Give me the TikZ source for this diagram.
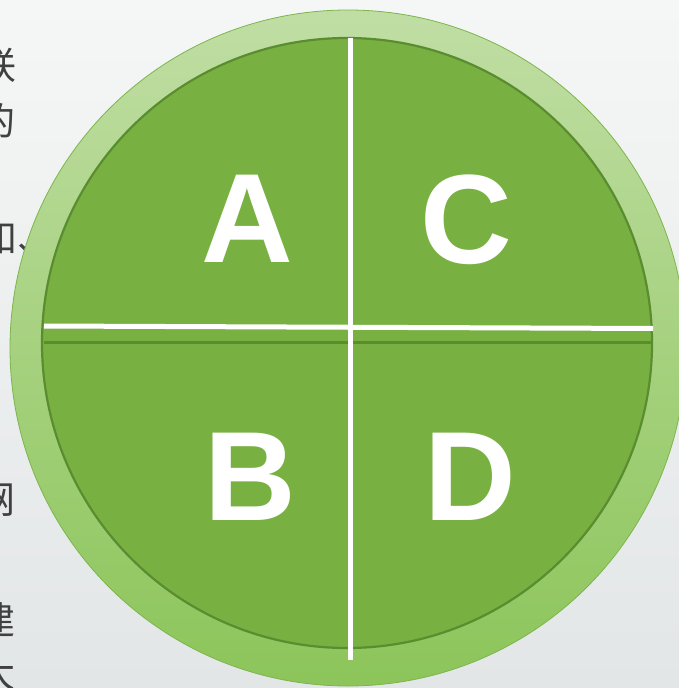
\documentclass[tikz,border=0pt]{standalone}
\usepackage{fontspec}
\setmainfont{Liberation Sans}
\newfontfamily\cjk{Noto Sans CJK SC}
\definecolor{bgtop}{HTML}{F5F7F6}
\definecolor{bgbot}{HTML}{E3E6E7}
\definecolor{ringtop}{HTML}{C0DEA4}
\definecolor{ringbot}{HTML}{8CC55A}
\definecolor{ringedge}{HTML}{7DB54C}
\definecolor{innerfill}{HTML}{78B142}
\definecolor{inneredge}{HTML}{5A8C30}
\definecolor{txtgray}{HTML}{404040}
\tikzset{
  letter/.style={text=white, inner sep=0pt, anchor=base, font=\bfseries\fontsize{127}{127}\selectfont},
  sidetext/.style={text=txtgray, inner sep=0pt, anchor=east, font=\cjk\fontsize{38}{38}\selectfont},
  divider/.style={white, line width=5pt},
}
\begin{document}
\begin{tikzpicture}[x=1pt,y=-1pt]
\useasboundingbox (0,0) rectangle (679,688);
\clip (0,0) rectangle (679,688);
\shade[top color=bgtop, bottom color=bgbot] (0,0) rectangle (679,688);
% side text (cut off at the left edge, as in the reference)
\node[sidetext] (t1) at (17,66) {联};
\node[sidetext] (t2) at (16,121) {的};
\node[sidetext] (t3) at (56,238) {和、};
\node[sidetext] (t4) at (16,500) {网};
\node[sidetext] (t5) at (16,620) {建};
\node[sidetext] (t6) at (16,673) {大};
% outer ring
\shade[top color=ringtop, bottom color=ringbot, draw=ringedge, line width=0.8pt] (348,348) circle (338);
% inner disc
\fill[innerfill] (347,343) circle (305);
\draw[inneredge, line width=2.2pt] (347,343) circle (305);
% dark seam
\coordinate (sl) at (44,342.5);
\coordinate (sr) at (651,342.5);
\draw[inneredge, line width=2.5pt] (sl) -- (sr);
% white dividers
\coordinate (hl) at (44,326);
\coordinate (hr) at (653,328.5);
\coordinate (vt) at (350,38);
\coordinate (vb) at (350,660);
\draw[divider] (hl) -- (hr);
\draw[divider] (vt) -- (vb);
% letters
\node[letter] (A) at (247.5,262) {A};
\node[letter] (C) at (466,263) {C};
\node[letter] (B) at (250.5,520) {B};
\node[letter] (D) at (470,520) {D};
\end{tikzpicture}
\end{document}
